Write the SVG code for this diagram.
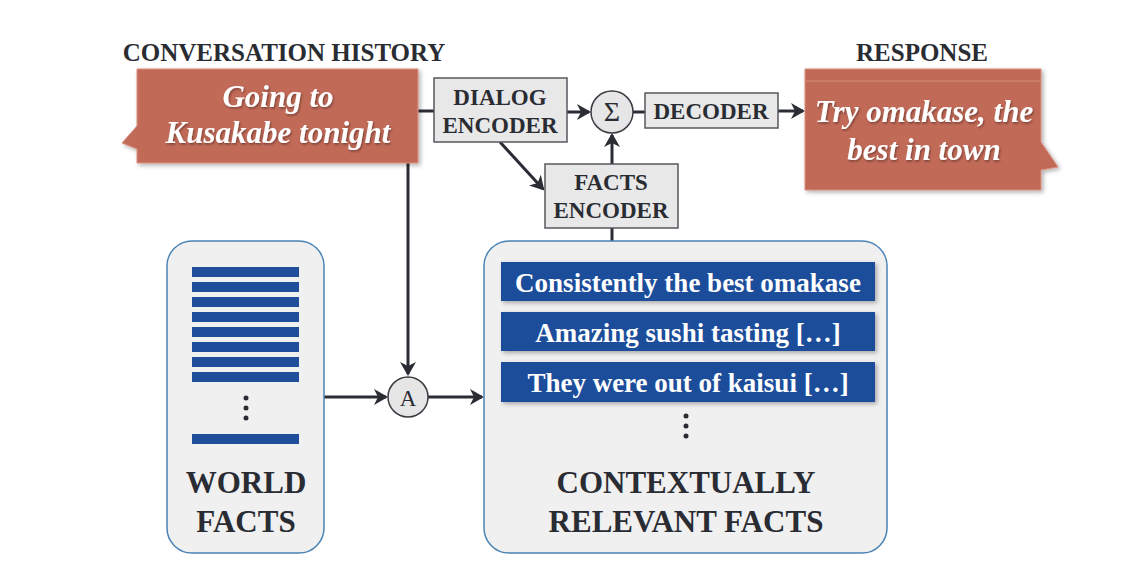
<svg xmlns="http://www.w3.org/2000/svg" width="1132" height="576" viewBox="0 0 1132 576">
<style>
.title{font-family:"Liberation Serif",serif;font-weight:bold;font-size:25px;fill:#2a2c33;text-anchor:middle}
.bubble{fill:#c26a58;stroke:#d98f7d;stroke-width:1}
.btext{font-family:"Liberation Serif",serif;font-weight:bold;font-style:italic;font-size:31px;fill:#ffffff;text-anchor:middle}
.box{fill:#e8e8e8;stroke:#55585e;stroke-width:1.5}
.boxtext{font-family:"Liberation Serif",serif;font-weight:bold;font-size:23px;fill:#2a2c33;text-anchor:middle}
.op{fill:#e6e6e6;stroke:#3a3c42;stroke-width:1.5}
.optext{font-family:"Liberation Serif",serif;font-size:28px;fill:#2a2c33;text-anchor:middle}
.panel{fill:#f0f0f0;stroke:#4a83b5;stroke-width:1.5}
.bar{fill:#1f4e9b}
.fbar{fill:#1f4e9b}
.ftext{font-family:"Liberation Serif",serif;font-weight:bold;font-size:27px;fill:#ffffff;text-anchor:middle}
.ptext{font-family:"Liberation Serif",serif;font-weight:bold;font-size:31px;fill:#2a2c33;text-anchor:middle}
.dot{fill:#2a2c33}
.conn{stroke:#2b2d35;stroke-width:3;fill:none}
</style>
<defs>
<marker id="arr" markerUnits="userSpaceOnUse" viewBox="0 0 14 16" markerWidth="14" markerHeight="16" refX="12" refY="8" orient="auto">
<path d="M0,0 L14,8 L0,16 L4,8 Z" fill="#2b2d35"/>
</marker>
<filter id="sh" x="-10%" y="-10%" width="125%" height="130%">
<feDropShadow dx="2" dy="2" stdDeviation="2" flood-color="#000" flood-opacity="0.3"/>
</filter>
<filter id="tsh" x="-10%" y="-20%" width="120%" height="150%">
<feDropShadow dx="1" dy="1.5" stdDeviation="1" flood-color="#000" flood-opacity="0.4"/>
</filter>
</defs>
<rect width="1132" height="576" fill="#ffffff"/>

<text class="title" x="284" y="61">CONVERSATION HISTORY</text>
<text class="title" x="922" y="61">RESPONSE</text>

<g id="connectors">
<line class="conn" x1="418" y1="111" x2="434" y2="111"/>
<line class="conn" x1="567" y1="112" x2="589" y2="112" marker-end="url(#arr)"/>
<line class="conn" x1="633" y1="112" x2="645" y2="112"/>
<line class="conn" x1="778" y1="111" x2="803" y2="111" marker-end="url(#arr)"/>
<line class="conn" x1="500" y1="142" x2="543" y2="189" marker-end="url(#arr)"/>
<line class="conn" x1="612" y1="164" x2="612" y2="135" marker-end="url(#arr)"/>
<line class="conn" x1="612" y1="228" x2="612" y2="241"/>
<line class="conn" x1="408" y1="163" x2="408" y2="374" marker-end="url(#arr)"/>
<line class="conn" x1="324" y1="397" x2="386" y2="397" marker-end="url(#arr)"/>
<line class="conn" x1="428" y1="397" x2="482" y2="397" marker-end="url(#arr)"/>
</g>

<g id="history">
<path class="bubble" filter="url(#sh)" d="M137,69 H418 V163 H137 V149 L122,143 L137,126 Z"/>
<text class="btext" filter="url(#tsh)" x="278" y="107">Going to</text>
<text class="btext" filter="url(#tsh)" x="278" y="143">Kusakabe tonight</text>
</g>

<g id="response">
<path class="bubble" filter="url(#sh)" d="M805,69 H1041 V142 L1058,167 L1041,170 V190 H805 Z"/>
<line x1="806" y1="81" x2="1040" y2="81" stroke="#d98f7d" stroke-width="1"/>
<text class="btext" filter="url(#tsh)" x="924" y="122">Try omakase, the</text>
<text class="btext" filter="url(#tsh)" x="924" y="160">best in town</text>
</g>

<g id="dialog-encoder">
<rect class="box" x="434" y="78" width="133" height="64"/>
<text class="boxtext" x="500" y="105">DIALOG</text>
<text class="boxtext" x="500" y="133">ENCODER</text>
</g>

<g id="sum">
<circle class="op" cx="612" cy="112" r="21"/>
<text class="optext" x="612" y="121">Σ</text>
</g>

<g id="decoder">
<rect class="box" x="645" y="93" width="133" height="35"/>
<text class="boxtext" x="711" y="119">DECODER</text>
</g>

<g id="facts-encoder">
<rect class="box" x="545" y="164" width="133" height="64"/>
<text class="boxtext" x="611" y="190">FACTS</text>
<text class="boxtext" x="611" y="218">ENCODER</text>
</g>

<g id="world-facts">
<rect class="panel" x="167" y="241" width="157" height="312" rx="25" ry="25"/>
<rect class="bar" x="192" y="267" width="107" height="10"/>
<rect class="bar" x="192" y="282" width="107" height="10"/>
<rect class="bar" x="192" y="297" width="107" height="10"/>
<rect class="bar" x="192" y="312" width="107" height="10"/>
<rect class="bar" x="192" y="327" width="107" height="10"/>
<rect class="bar" x="192" y="342" width="107" height="10"/>
<rect class="bar" x="192" y="357" width="107" height="10"/>
<rect class="bar" x="192" y="372" width="107" height="10"/>
<circle class="dot" cx="246" cy="398" r="2.5"/>
<circle class="dot" cx="246" cy="408" r="2.5"/>
<circle class="dot" cx="246" cy="418" r="2.5"/>
<rect class="bar" x="192" y="434" width="107" height="10"/>
<text class="ptext" x="246" y="493">WORLD</text>
<text class="ptext" x="246" y="532">FACTS</text>
</g>

<g id="attention">
<circle class="op" cx="408" cy="397" r="20"/>
<text class="optext" x="408" y="406" style="font-size:23px">A</text>
</g>

<g id="relevant-facts">
<rect class="panel" x="484" y="241" width="403" height="312" rx="25" ry="25"/>
<rect class="fbar" filter="url(#sh)" x="501" y="262" width="374" height="39"/>
<text class="ftext" x="688" y="292">Consistently the best omakase</text>
<rect class="fbar" filter="url(#sh)" x="501" y="312" width="374" height="39"/>
<text class="ftext" x="688" y="342">Amazing sushi tasting […]</text>
<rect class="fbar" filter="url(#sh)" x="501" y="362" width="374" height="40"/>
<text class="ftext" x="688" y="392">They were out of kaisui […]</text>
<circle class="dot" cx="686" cy="416" r="2.5"/>
<circle class="dot" cx="686" cy="426" r="2.5"/>
<circle class="dot" cx="686" cy="436" r="2.5"/>
<text class="ptext" x="686" y="493">CONTEXTUALLY</text>
<text class="ptext" x="686" y="532">RELEVANT FACTS</text>
</g>
</svg>
